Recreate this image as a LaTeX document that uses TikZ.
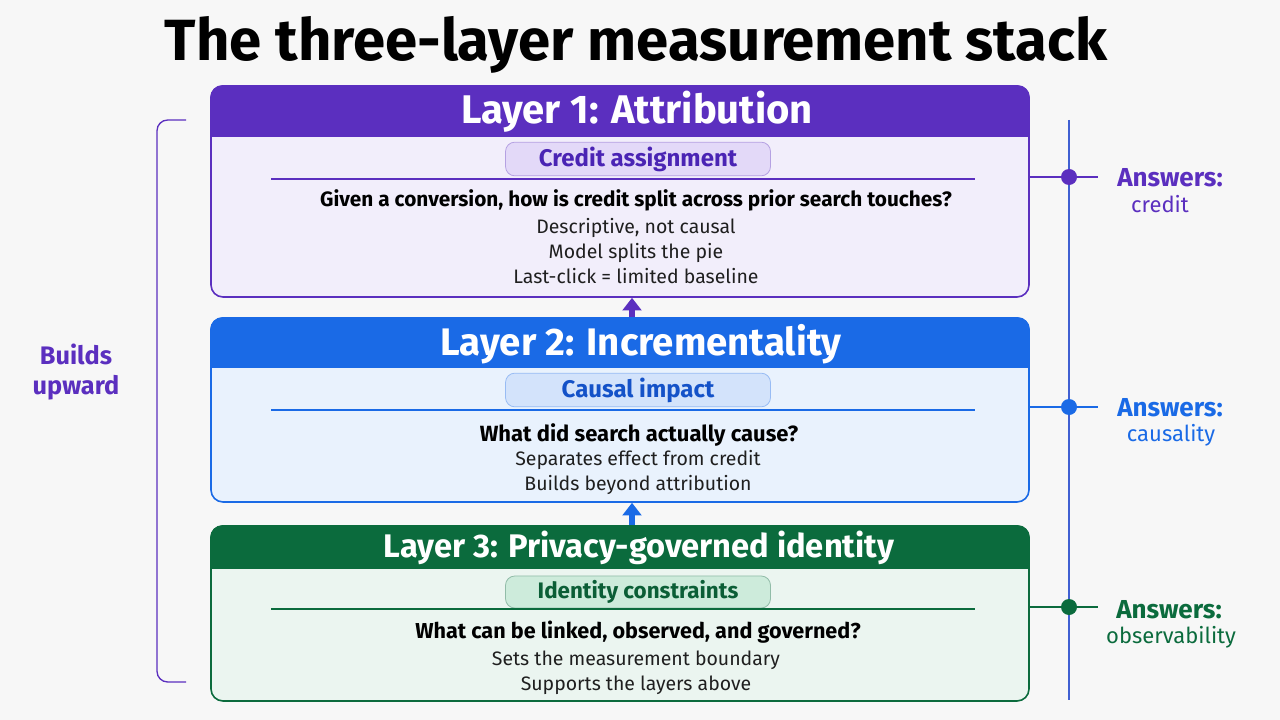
\documentclass[tikz,border=0pt]{standalone}
\usepackage{fontspec}
\setmainfont{Fira Sans}
\usepackage{xcolor}
\usetikzlibrary{positioning,calc,arrows.meta}

\definecolor{bgpage}{HTML}{F7F7F7}
\definecolor{purplehd}{HTML}{5B2FBF}
\definecolor{purplebg}{HTML}{F2EEFB}
\definecolor{purplepill}{HTML}{E3D9F8}
\definecolor{purpletx}{HTML}{4A24B4}
\definecolor{bluehd}{HTML}{1A6AE6}
\definecolor{bluebg}{HTML}{E9F2FD}
\definecolor{bluepill}{HTML}{D3E3FB}
\definecolor{bluetx}{HTML}{1452C8}
\definecolor{greenhd}{HTML}{0B6B3D}
\definecolor{greenbg}{HTML}{EBF5F0}
\definecolor{greenpill}{HTML}{CDEBDB}
\definecolor{greentx}{HTML}{0B5E36}
\definecolor{tlblue}{HTML}{4060D2}

\tikzset{
  layerbox/.style={rectangle, rounded corners=9pt, minimum width=613.5pt, line width=1.2pt},
  headtext/.style={text=white, font=\bfseries\fontsize{#1}{32}\selectfont},
  pill/.style={rectangle, rounded corners=7pt, minimum width=198.75pt, minimum height=24pt,
    line width=0.6pt, font=\bfseries\fontsize{#1}{20}\selectfont},
  question/.style={text=black, font=\bfseries\fontsize{#1}{18}\selectfont},
  bodylines/.style={text=black!88, align=center, font=\fontsize{14.6}{18.5}\selectfont},
  answer/.style={font=\bfseries\fontsize{19.5}{22}\selectfont},
  answersub/.style={font=\fontsize{16.5}{19}\selectfont},
  upar/.style={-{Triangle[width=14pt,length=9.5pt]}, line width=5pt},
  tldot/.style={circle, inner sep=0pt, minimum size=12pt},
}

\begin{document}
\begin{tikzpicture}[x=0.75pt, y=-0.75pt]
    % page
    \fill[bgpage] (0,0) rectangle (1280,720);
    \useasboundingbox (0,0) rectangle (1280,720);

    % Title
    \node[font=\bfseries\fontsize{43.6}{48}\selectfont] (title) at (636,45) {The three-layer measurement stack};

    % Layer boxes
    \node[layerbox, draw=purplehd, fill=purplebg, minimum height=158.25pt] (l1) at (620,191.5) {};
    \node[layerbox, draw=bluehd, fill=bluebg, minimum height=138pt] (l2) at (620,410) {};
    \node[layerbox, draw=greenhd, fill=greenbg, minimum height=131.25pt] (l3) at (620,613.5) {};

    % Header bands
    \begin{scope}
      \clip[rounded corners=9pt] (l1.north west) rectangle (l1.south east);
      \fill[purplehd] (l1.north west) rectangle ($(l1.north east)+(0,52)$);
    \end{scope}
    \begin{scope}
      \clip[rounded corners=9pt] (l2.north west) rectangle (l2.south east);
      \fill[bluehd] (l2.north west) rectangle ($(l2.north east)+(0,51)$);
    \end{scope}
    \begin{scope}
      \clip[rounded corners=9pt] (l3.north west) rectangle (l3.south east);
      \fill[greenhd] (l3.north west) rectangle ($(l3.north east)+(0,44)$);
    \end{scope}

    % Layer 1
    \node[headtext=30] (h1) at (637,112) {Layer 1: Attribution};
    \node[pill=18, draw=purplehd!45, fill=purplepill, text=purpletx] (p1) at (638,159) {Credit assignment};
    \draw[purplehd, line width=1pt] (271,179) -- (975,179);
    \node[question=15.6] (q1) at (636,200) {Given a conversion, how is credit split across prior search touches?};
    \node[bodylines] (b1) at (636,251) {Descriptive, not causal\\Model splits the pie\\Last-click = limited baseline};

    % Layer 2
    \node[headtext=28.8] (h2) at (641,344) {Layer 2: Incrementality};
    \node[pill=18, draw=bluehd!45, fill=bluepill, text=bluetx] (p2) at (638,390) {Causal impact};
    \draw[bluehd, line width=1pt] (271,410) -- (975,410);
    \node[question=16.5] (q2) at (639,435) {What did search actually cause?};
    \node[bodylines] (b2) at (638,472.5) {Separates effect from credit\\Builds beyond attribution};

    % Layer 3
    \node[headtext=24.5] (h3) at (639,548) {Layer 3: Privacy-governed identity};
    \node[pill=16.8, draw=greenhd!45, fill=greenpill, text=greentx] (p3) at (638,592) {Identity constraints};
    \draw[greenhd, line width=1pt] (271,609) -- (975,609);
    \node[question=16.2] (q3) at (638,632) {What can be linked, observed, and governed?};
    \node[bodylines] (b3) at (636,672.5) {Sets the measurement boundary\\Supports the layers above};

    % Upward arrows
    \draw[upar, purplehd] ([xshift=9pt]l2.north) -- ([xshift=9pt]l1.south);
    \draw[upar, bluehd] ([xshift=9pt]l3.north) -- ([xshift=9pt]l2.south);

    % Left bracket
    \coordinate (bt) at (186,120);
    \coordinate (bb) at (186,682);
    \draw[purplehd, line width=1pt, rounded corners=8pt] (bt) -- (157,120) -- (157,682) -- (bb);
    \node[align=center, text=purplehd, font=\bfseries\fontsize{19}{23}\selectfont] (bu) at (76,372) {Builds\\upward};

    % Right timeline
    \coordinate (tltop) at (1069,120);
    \coordinate (tlbot) at (1069,700);
    \coordinate (e1) at (1098,177);
    \coordinate (e2) at (1098,407);
    \coordinate (e3) at (1098,607);
    \draw[purplehd, line width=1pt] (l1.east |- e1) -- (e1);
    \draw[bluehd, line width=1pt] (l2.east |- e2) -- (e2);
    \draw[greenhd, line width=1pt] (l3.east |- e3) -- (e3);
    \draw[tlblue, line width=1.2pt] (tltop) -- (tlbot);
    \node[tldot, fill=purplehd] (d1) at (1069,177) {};
    \node[tldot, fill=bluehd] (d2) at (1069,407) {};
    \node[tldot, fill=greenhd] (d3) at (1069,607) {};

    % Answers
    \node[answer, text=purplehd] (a1) at (1170,178) {Answers:};
    \node[answersub, text=purplehd] (c1) at (1160,204) {credit};
    \node[answer, text=bluehd] (a2) at (1170,408) {Answers:};
    \node[answersub, text=bluehd] (c2) at (1171,435) {causality};
    \node[answer, text=greenhd] (a3) at (1169,610) {Answers:};
    \node[answersub, text=greenhd] (c3) at (1171,637) {observability};

\end{tikzpicture}
\end{document}
